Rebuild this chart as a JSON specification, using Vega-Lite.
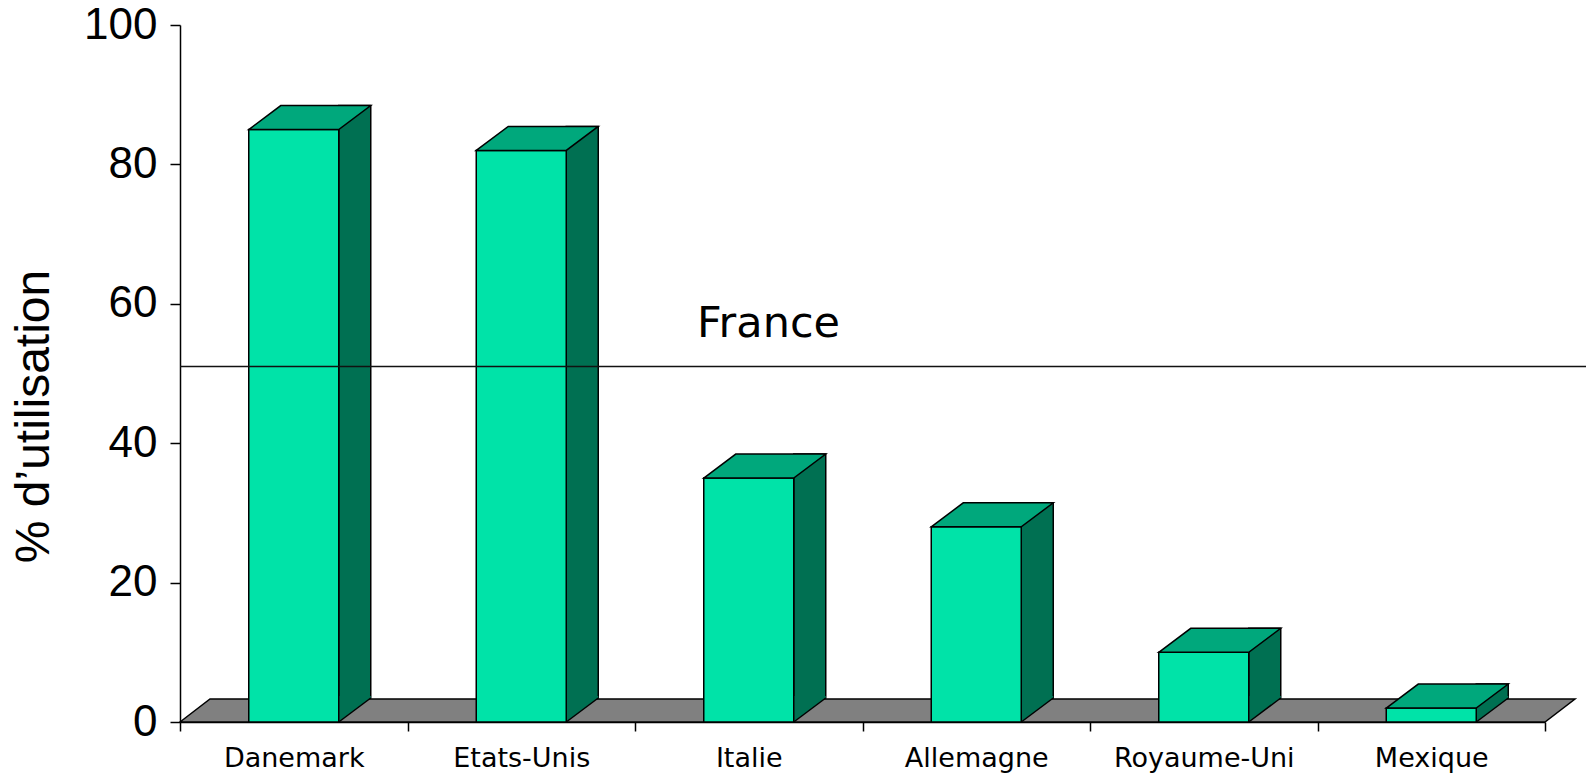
{
  "$schema": "https://vega.github.io/schema/vega-lite/v6.json",
  "autosize": "none",
  "width": 1365,
  "height": 697,
  "padding": {"left": 180, "top": 25, "right": 44, "bottom": 54},
  "background": "white",
  "config": {
    "view": {"stroke": null},
    "axis": {"grid": false, "domainColor": "black", "domainWidth": 1.5, "tickColor": "black", "tickWidth": 1.5, "labelColor": "black", "titleColor": "black"}
  },
  "data": {
    "values": [
      {"pays": "Danemark", "pct": 85},
      {"pays": "Etats-Unis", "pct": 82},
      {"pays": "Italie", "pct": 35},
      {"pays": "Allemagne", "pct": 28},
      {"pays": "Royaume-Uni", "pct": 10},
      {"pays": "Mexique", "pct": 2}
    ]
  },
  "encoding": {
    "x": {
      "field": "pays", "type": "nominal", "sort": null,
      "scale": {"type": "band", "paddingInner": 0, "paddingOuter": 0},
      "axis": {"title": null, "labelAngle": 0, "labelFont": "DejaVu Sans", "labelFontSize": 27, "labelPadding": 14, "labelLimit": 0, "tickSize": 9, "tickBand": "extent"}
    }
  },
  "layer": [
    {
      "data": {"values": [{"sol": 0}]},
      "mark": {"type": "point", "shape": "M -682.5 0 L -652.5 -23 L 712.5 -23 L 682.5 0 Z", "size": 4, "filled": true, "fill": "#808080", "stroke": "black", "strokeWidth": 1.5, "opacity": 1},
      "encoding": {
        "x": null,
        "y": {"field": "sol", "type": "quantitative", "scale": {"domain": [0, 100]},
          "axis": {"values": [0, 20, 40, 60, 80, 100], "labelFont": "Liberation Sans", "labelFontSize": 44, "labelPadding": 13, "tickSize": 10,
            "title": "% d’utilisation", "titleFont": "Liberation Sans", "titleFontSize": 48, "titleFontWeight": "normal",
            "titleX": -146, "titleY": 391, "titleAngle": -90, "titleAlign": "center", "titleBaseline": "middle"}}
      }
    },
    {
      "mark": {"type": "bar", "width": 32, "xOffset": 61, "yOffset": -24, "y2Offset": -24, "fill": "#007052", "stroke": "black", "strokeWidth": 1.5},
      "encoding": {"y": {"field": "pct", "type": "quantitative"}}
    },
    {
      "mark": {"type": "point", "shape": "M 45 -26 L 77 -26 L 77 -24 L 45 0 Z", "size": 4, "filled": true, "fill": "#007052", "strokeWidth": 0, "opacity": 1},
      "encoding": {"y": {"datum": 0, "type": "quantitative"}}
    },
    {
      "mark": {"type": "point", "shape": "M 77 -24 L 45 0", "size": 4, "filled": false, "stroke": "black", "strokeWidth": 1.5, "opacity": 1},
      "encoding": {"y": {"datum": 0, "type": "quantitative"}}
    },
    {
      "mark": {"type": "bar", "width": 90, "fill": "#00e3a8", "stroke": "black", "strokeWidth": 1.5},
      "encoding": {"y": {"field": "pct", "type": "quantitative"}}
    },
    {
      "mark": {"type": "point", "shape": "M -45 0 L -13 -24 L 77 -24 L 45 0 Z", "size": 4, "filled": true, "fill": "#00a87c", "stroke": "black", "strokeWidth": 1.5, "opacity": 1},
      "encoding": {"y": {"field": "pct", "type": "quantitative"}}
    },
    {
      "data": {"values": [{"ref": "France", "pct": 51, "de": "Danemark", "a": "Mexique"}]},
      "mark": {"type": "rule", "color": "#111111", "strokeWidth": 1.5, "xOffset": -113.75, "x2Offset": 154.75, "clip": false},
      "encoding": {
        "x": {"field": "de", "type": "nominal"},
        "x2": {"field": "a"},
        "y": {"field": "pct", "type": "quantitative"}
      }
    },
    {
      "data": {"values": [{"ref": "France", "pct": 51}]},
      "mark": {"type": "text", "font": "DejaVu Sans", "fontSize": 43, "color": "black", "align": "center", "baseline": "alphabetic", "dx": -94, "dy": -30},
      "encoding": {"x": null, "y": {"field": "pct", "type": "quantitative"}, "text": {"field": "ref"}}
    }
  ]
}
